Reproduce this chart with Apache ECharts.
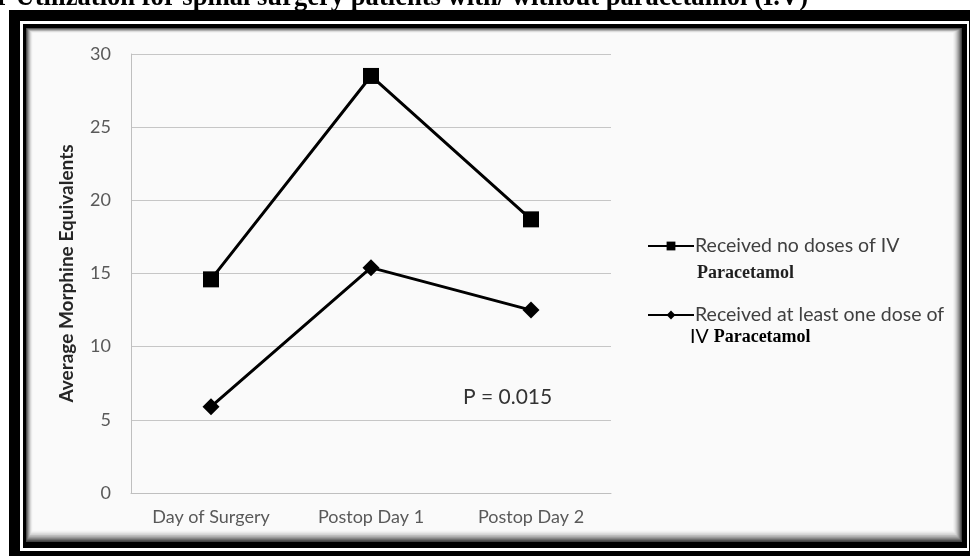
<!DOCTYPE html>
<html lang="en">
	<head>
		<meta charset="utf-8" />
		<title>Morphine utilization</title>
		<style>
			html, body { margin: 0; padding: 0; background: #fff; }
		</style>
	</head>
	<body>
		<div id="main" style="width: 970px; height: 556px;"></div>

		<script src="https://cdn.jsdelivr.net/npm/echarts@6/dist/echarts.min.js"></script>
		<script type="text/javascript">
			// data
			const categories = ['Day of Surgery', 'Postop Day 1', 'Postop Day 2'];
			const noDoses = [14.6, 28.5, 18.7];
			const atLeastOne = [5.9, 15.4, 12.5];
			const seriesNames = ['Received no doses of IV', 'Received at least one dose of'];
			const yTicks = { min: 0, max: 30, interval: 5 };

			const sans = 'Lato';
			const serif = 'Liberation Serif';

			// frame: black border, thin white line, inner black border, soft shadow
			const frame = [
				{ type: 'rect', z: -20, shape: { x: 9, y: 10, width: 980, height: 560 }, style: { fill: '#000' } },
				{ type: 'rect', z: -19, shape: { x: 20, y: 21, width: 949, height: 530 }, style: { fill: '#fff' } },
				{ type: 'rect', z: -18, shape: { x: 23, y: 24, width: 944, height: 524 }, style: { fill: '#000' } },
			];
			const shadeCols = ['#444', '#676767', '#878787', '#a4a4a4', '#bebebe', '#d4d4d4', '#e6e6e6', '#f2f2f2', '#fafafa'];
			shadeCols.forEach((c, i) => {
				frame.push({
					type: 'rect', z: -17 + i,
					shape: { x: 26 + i * 0.8, y: 28 + i * 0.6, width: 936 - i * 1.9, height: 514 - i * 2.0 },
					style: { fill: c }
				});
			});

			const myChart = echarts.init(document.getElementById('main'));

			const option = {
				backgroundColor: '#fff',
				animation: false,
				grid: { left: 131, right: 359, top: 54, bottom: 63 },
				xAxis: {
					type: 'category',
					data: categories,
					boundaryGap: true,
					axisLine: { lineStyle: { color: '#bfbfbf', width: 1 } },
					axisTick: { show: false },
					axisLabel: { color: '#595959', fontFamily: sans, fontSize: 18, margin: 15 }
				},
				yAxis: {
					type: 'value',
					min: yTicks.min,
					max: yTicks.max,
					interval: yTicks.interval,
					name: 'Average Morphine Equivalents',
					nameLocation: 'middle',
					nameGap: 55,
					nameTextStyle: { color: '#262626', fontFamily: sans, fontSize: 19, fontWeight: 'bold' },
					axisLine: { show: true, lineStyle: { color: '#bfbfbf', width: 1 } },
					axisTick: { show: false },
					splitLine: { lineStyle: { color: '#c6c6c6', width: 1 } },
					axisLabel: { color: '#595959', fontFamily: sans, fontSize: 18, margin: 20 }
				},
				legend: {
					orient: 'vertical',
					left: 642,
					top: 231,
					itemWidth: 46,
					itemHeight: 11,
					itemGap: 49,
					textStyle: { color: '#404040', fontFamily: sans, fontSize: 19.5, padding: [0, 0, 0, -4] },
					data: seriesNames
				},
				series: [
					{
						name: seriesNames[0],
						type: 'line',
						data: noDoses,
						color: '#000',
						symbol: 'rect',
						symbolSize: 16,
						lineStyle: { color: '#000', width: 3 },
						itemStyle: { color: '#000' }
					},
					{
						name: seriesNames[1],
						type: 'line',
						data: atLeastOne,
						color: '#000',
						symbol: 'diamond',
						symbolSize: 17,
						lineStyle: { color: '#000', width: 3 },
						itemStyle: { color: '#000' }
					}
				],
				graphic: frame.concat([
					{
						type: 'text', z: -30, left: -3, top: -15,
						style: {
							text: 'r Utilization for spinal surgery patients with/ without paracetamol (I.V)',
							font: 'bold 26.6px "Liberation Serif"', fill: '#000'
						}
					},
					{
						type: 'text', z: 10, left: 463, top: 387,
						style: { text: 'P = 0.015', font: '21px Lato', fill: '#333' }
					},
					{
						type: 'text', z: 10, left: 697, top: 264,
						style: { text: 'Paracetamol', font: 'bold 18px "Liberation Serif"', fill: '#1f1f1f' }
					},
					{
						type: 'text', z: 10, left: 690, top: 327,
						style: {
							text: '{a|IV }{b|Paracetamol}',
							rich: {
								a: { fontFamily: sans, fontSize: 19.5, color: '#404040' },
								b: { fontFamily: serif, fontSize: 18, fontWeight: 'bold', color: '#1f1f1f' }
							}
						}
					}
				])
			};

			myChart.setOption(option);
		</script>
	</body>
</html>
